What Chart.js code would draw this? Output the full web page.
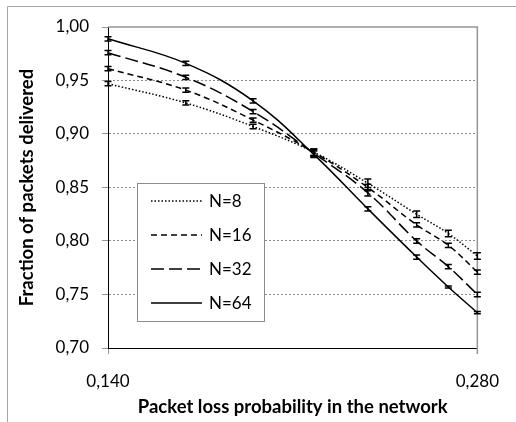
<!DOCTYPE html>
<html>
<head>
<meta charset="utf-8">
<script src="https://cdn.jsdelivr.net/npm/chart.js@4.4.0/dist/chart.umd.min.js"></script>
<style>
body{margin:0;background:#fff}
canvas{display:block}
</style>
</head>
<body>
<canvas id="myChart" width="516" height="422"></canvas>
<script>
// packet loss probabilities (x) 
const lossProb = [0.140, 0.1695, 0.195, 0.218, 0.2385, 0.257, 0.269, 0.280]

const seriesNames = ['N=8', 'N=16', 'N=32', 'N=64']

// fraction delivered
const n8  = [0.947, 0.929, 0.907, 0.883, 0.854, 0.825, 0.807, 0.786]
const n16 = [0.961, 0.941, 0.913, 0.883, 0.850, 0.815, 0.796, 0.771]
const n32 = [0.976, 0.953, 0.921, 0.882, 0.845, 0.800, 0.776, 0.750]
const n64 = [0.989, 0.966, 0.931, 0.881, 0.830, 0.785, 0.757, 0.733]

// half size of the error bars
const n8Err  = [0.002, 0.002, 0.002, 0.003, 0.004, 0.003, 0.003, 0.003]
const n16Err = [0.002, 0.002, 0.002, 0.003, 0.003, 0.002, 0.002, 0.002]
const n32Err = [0.002, 0.002, 0.002, 0.003, 0.003, 0.002, 0.002, 0.002]
const n64Err = [0.002, 0.002, 0.002, 0.003, 0.002, 0.002, 0.001, 0.001]

const xTicks = [0.140, 0.280]
const yTicks = [0.70, 0.75, 0.80, 0.85, 0.90, 0.95, 1.00]

const allValues = [n8, n16, n32, n64]
const allErrors = [n8Err, n16Err, n32Err, n64Err]
const dashes = [[1.5, 2], [6, 4], [13, 5], []]

const fmt = (v, d) => v.toFixed(d).replace('.', ',')

Chart.defaults.font.family = 'Lato'
Chart.defaults.color = '#000'

const errorBars = {
    id: 'errorBars',
    afterDatasetsDraw(chart) {
        const ctx = chart.ctx
        const xs = chart.scales.x
        const ys = chart.scales.y
        ctx.save()
        ctx.strokeStyle = '#000'
        ctx.lineWidth = 1.5
        allValues.forEach(function(vals, i) {
            vals.forEach(function(v, j) {
                const x = xs.getPixelForValue(lossProb[j])
                const y1 = ys.getPixelForValue(v + allErrors[i][j])
                const y2 = ys.getPixelForValue(v - allErrors[i][j])
                ctx.beginPath()
                ctx.moveTo(x, y1); ctx.lineTo(x, y2)
                ctx.moveTo(x - 3.5, y1); ctx.lineTo(x + 3.5, y1)
                ctx.moveTo(x - 3.5, y2); ctx.lineTo(x + 3.5, y2)
                ctx.stroke()
            })
        })
        ctx.restore()
    }
}

const frame = {
    id: 'frame',
    beforeDraw(chart) {
        const ctx = chart.ctx
        ctx.save()
        ctx.fillStyle = '#fff'
        ctx.fillRect(0, 0, chart.width, chart.height)
        ctx.strokeStyle = '#a6a6a6'
        ctx.lineWidth = 1
        ctx.beginPath()
        ctx.moveTo(7.5, chart.height)
        ctx.lineTo(7.5, 6.5)
        ctx.lineTo(chart.width, 6.5)
        ctx.stroke()
        ctx.restore()
    },
    beforeDatasetsDraw(chart) {
        const a = chart.chartArea
        const ctx = chart.ctx
        ctx.save()
        ctx.strokeStyle = '#969696'
        ctx.lineWidth = 1.5
        ctx.beginPath()
        ctx.moveTo(a.left, a.top)
        ctx.lineTo(a.right, a.top)
        ctx.lineTo(a.right, a.bottom + 6)
        ctx.stroke()
        ctx.restore()
    }
}

const boxLegend = {
    id: 'boxLegend',
    afterDraw(chart) {
        const a = chart.chartArea
        const ctx = chart.ctx
        const left = a.left + 29
        const top = a.top + 156
        ctx.save()
        ctx.fillStyle = '#fff'
        ctx.strokeStyle = '#8c8c8c'
        ctx.lineWidth = 1
        ctx.fillRect(left, top, 127, 138)
        ctx.strokeRect(left + 0.5, top + 0.5, 127, 138)
        ctx.font = '17px Lato'
        ctx.textBaseline = 'middle'
        ctx.fillStyle = '#000'
        chart.data.datasets.forEach(function(ds, i) {
            const y = top + 18 + i * 34
            ctx.strokeStyle = '#000'
            ctx.lineWidth = ds.borderWidth
            ctx.setLineDash(ds.borderDash)
            ctx.beginPath()
            ctx.moveTo(left + 14, y)
            ctx.lineTo(left + 65, y)
            ctx.stroke()
            ctx.setLineDash([])
            ctx.fillText(ds.label, left + 72, y + 1)
        })
        ctx.restore()
    }
}

const ctx = document.getElementById('myChart').getContext('2d')

const myChart = new Chart(ctx, {
    type: 'line',
    data: {
        datasets: seriesNames.map(function(name, i) {
            return {
                label: name,
                data: lossProb.map((x, j) => ({x: x, y: allValues[i][j]})),
                borderColor: '#000',
                borderWidth: 1.5,
                borderDash: dashes[i],
                pointRadius: 0,
                tension: 0.4,
                fill: false,
                clip: 4
            }
        })
    },
    options: {
        responsive: false,
        animation: false,
        layout: {padding: {top: 27, right: 32, left: 0, bottom: 0}},
        plugins: {
            legend: {display: false},
            tooltip: {enabled: false}
        },
        scales: {
            x: {
                type: 'linear',
                min: 0.14,
                max: 0.28,
                afterBuildTicks: s => { s.ticks = xTicks.map(v => ({value: v})) },
                afterFit: s => { s.height = 74 },
                ticks: {
                    callback: v => fmt(v, 3),
                    font: {size: 17},
                    padding: 17,
                    maxRotation: 0
                },
                grid: {drawOnChartArea: false, tickLength: 6, tickColor: '#969696'},
                border: {color: '#000', width: 1},
                title: {
                    display: true,
                    text: 'Packet loss probability in the network',
                    font: {size: 18.5, weight: 'bold'},
                    padding: {top: 0, bottom: 4}
                }
            },
            y: {
                min: 0.70,
                max: 1.00,
                afterBuildTicks: s => { s.ticks = yTicks.map(v => ({value: v})) },
                afterFit: s => { s.width = 108 },
                ticks: {
                    callback: v => fmt(v, 2),
                    font: {size: 17},
                    padding: 13
                },
                grid: {
                    color: c => (c.tick && (c.tick.value <= 0.70 || c.tick.value >= 1.0)) ? 'rgba(0,0,0,0)' : '#8c8c8c',
                    tickColor: '#969696',
                    tickLength: 6
                },
                border: {color: '#000', width: 1, dash: [2, 2]},
                title: {
                    display: true,
                    text: 'Fraction of packets delivered',
                    font: {size: 18.5, weight: 'bold'},
                    padding: {top: 16, bottom: 0}
                }
            }
        }
    },
    plugins: [frame, errorBars, boxLegend]
})
</script>
</body>
</html>
